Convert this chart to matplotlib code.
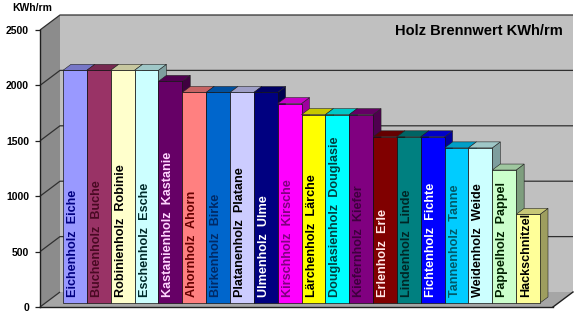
import matplotlib
matplotlib.use("Agg")
import matplotlib.pyplot as plt
from matplotlib.patches import Polygon
import matplotlib.colors as mcolors

plt.rcParams['font.family'] = ['Liberation Sans', 'DejaVu Sans']

# ---------------- data ----------------
categories = ["Eichenholz  Eiche", "Buchenholz  Buche", "Robinienholz  Robinie",
              "Eschenholz  Esche", "Kastanienholz  Kastanie", "Ahornholz  Ahorn",
              "Birkenholz  Birke", "Platanenholz  Platane", "Ulmenholz  Ulme",
              "Kirschholz  Kirsche", "Lärchenholz  Lärche", "Douglasienholz  Douglasie",
              "Kiefernholz  Kiefer", "Erlenholz  Erle", "Lindenholz  Linde",
              "Fichtenholz  Fichte", "Tannenholz  Tanne", "Weidenholz  Weide",
              "Pappelholz  Pappel", "Hackschnitzel"]
values = [2100, 2100, 2100, 2100, 2000, 1900, 1900, 1900, 1900, 1800,
          1700, 1700, 1700, 1500, 1500, 1500, 1400, 1400, 1200, 800]
bar_colors = ["#9999FF", "#993366", "#FFFFCC", "#CCFFFF", "#660066", "#FF8080",
              "#0066CC", "#CCCCFF", "#000080", "#FF00FF", "#FFFF00", "#00FFFF",
              "#800080", "#800000", "#008080", "#0000FF", "#00CCFF", "#CCFFFF",
              "#CCFFCC", "#FFFF99"]
label_colors = ["#000080", "#4a0a24", "#000000", "#002a2a", "#ffd6ff", "#660000",
                "#002a66", "#000000", "#ffffff", "#800080", "#000000", "#004040",
                "#3e003e", "#ffe6e6", "#002626", "#ffffff", "#005a6a", "#000000",
                "#002000", "#000000"]
y_ticks = [0, 500, 1000, 1500, 2000, 2500]
title = "Holz Brennwert KWh/rm"
unit_label = "KWh/rm"

# ---------------- layout (pixels) ----------------
W, H = 579, 315
fig = plt.figure(figsize=(W / 100, H / 100), dpi=100)
fig.patch.set_facecolor("white")

PX = 23.85          # pixel pitch of one category
X0 = 63.0           # left edge of first bar (px)
Y0 = 303.0          # bar baseline (px from top)
S = 0.1108          # px per value unit
FX_L, FX_R, FY0 = 40.0, 553.0, 307.0   # front plane
DX, DY = 20.0, -15.0                    # full depth vector (px)
BDX, BDY = 8.0, -6.0                    # bar depth vector (px)
vmax = max(y_ticks)

ax = fig.add_axes([0, 0, 1, 1])
ax.set_axis_off()


def P(px, py):
    return ((px - X0) / PX - 0.5, (Y0 - py) / S)


x_lo, _ = P(0, 0)
x_hi, _ = P(W, 0)
_, y_lo = P(0, H)
_, y_hi = P(0, 0)
ax.set_xlim(x_lo, x_hi)
ax.set_ylim(y_lo, y_hi)


def poly(pts_px, **kw):
    p = Polygon([P(*q) for q in pts_px], closed=True, **kw)
    ax.add_patch(p)
    return p


ftop = FY0 - vmax * S
# back wall
poly([(FX_L + DX, ftop + DY), (FX_R + DX, ftop + DY), (FX_R + DX, FY0 + DY),
      (FX_L + DX, FY0 + DY)], facecolor="#c0c0c0", edgecolor="none", zorder=1)
# left wall
poly([(FX_L, ftop), (FX_L + DX, ftop + DY), (FX_L + DX, FY0 + DY), (FX_L, FY0)],
     facecolor="#8c8c8c", edgecolor="none", zorder=1)
# floor
poly([(FX_L, FY0), (FX_R, FY0), (FX_R + DX, FY0 + DY), (FX_L + DX, FY0 + DY)],
     facecolor="#a6a6a6", edgecolor="none", zorder=1)
# floor edges
for (a, b) in [((FX_L, FY0), (FX_R, FY0)), ((FX_R, FY0), (FX_R + DX, FY0 + DY))]:
    pa, pb = P(*a), P(*b)
    ax.plot([pa[0], pb[0]], [pa[1], pb[1]], color="#202020", lw=1.0, zorder=2)

# grid lines (left wall diagonal + back wall horizontal)
for v in y_ticks:
    py = FY0 - v * S
    pts = [P(FX_L, py), P(FX_L + DX, py + DY), P(FX_R + DX, py + DY)]
    if v == 0:
        pts = pts[:2]
    ax.plot([q[0] for q in pts], [q[1] for q in pts], color="#303030", lw=0.9,
            zorder=2, solid_capstyle="butt")

# bars
n = len(values)
xs = list(range(n))
bdx = BDX / PX
bdy = -BDY / S
bars = ax.bar(xs, values, width=1.0, bottom=0, color=bar_colors,
              edgecolor="#111111", linewidth=0.5)
for i, (b, v, c) in enumerate(zip(bars, values, bar_colors)):
    rgb = mcolors.to_rgb(c)
    top_c = tuple(0.78 * k for k in rgb)
    side_c = tuple(0.62 * k for k in rgb)
    z = 3 + i * 0.01
    side = Polygon([(i + 0.5, 0), (i + 0.5, v), (i + 0.5 + bdx, v + bdy),
                    (i + 0.5 + bdx, bdy)], closed=True, facecolor=side_c,
                   edgecolor="#222222", linewidth=0.4, zorder=z)
    top = Polygon([(i - 0.5, v), (i + 0.5, v), (i + 0.5 + bdx, v + bdy),
                   (i - 0.5 + bdx, v + bdy)], closed=True, facecolor=top_c,
                  edgecolor="#222222", linewidth=0.4, zorder=z)
    ax.add_patch(side)
    ax.add_patch(top)
    b.set_zorder(z + 0.005)

# labels inside bars
label_base = 6.0 / S
for i, (lab, lc) in enumerate(zip(categories, label_colors)):
    ax.text(i - 0.08, label_base, lab, rotation=90, ha="center", va="bottom",
            fontsize=9.1, fontweight="bold", color=lc, zorder=10)

# front value axis
ax2 = fig.add_axes([FX_L / W, (H - FY0) / H, (FX_R - FX_L) / W, (vmax * S) / H])
ax2.patch.set_alpha(0)
ax2.set_ylim(0, vmax)
ax2.set_xlim(0, 1)
ax2.set_yticks(y_ticks)
ax2.set_yticklabels([str(t) for t in y_ticks], fontsize=7.5, fontweight="bold")
ax2.set_xticks([])
for s in ["top", "right", "bottom"]:
    ax2.spines[s].set_visible(False)
ax2.spines["left"].set_color("#202020")
ax2.spines["left"].set_linewidth(1.0)
ax2.tick_params(axis="y", length=3.5, width=0.9, pad=4.5, color="#202020")

# titles
fig.text(563 / W, 1 - 31 / H, title, ha="right", va="center", fontsize=10.5,
         fontweight="bold")
fig.text(12 / W, 1 - 8 / H, unit_label, ha="left", va="center", fontsize=7.5,
         fontweight="bold")

fig.savefig("out.png", dpi=100, facecolor="white")
